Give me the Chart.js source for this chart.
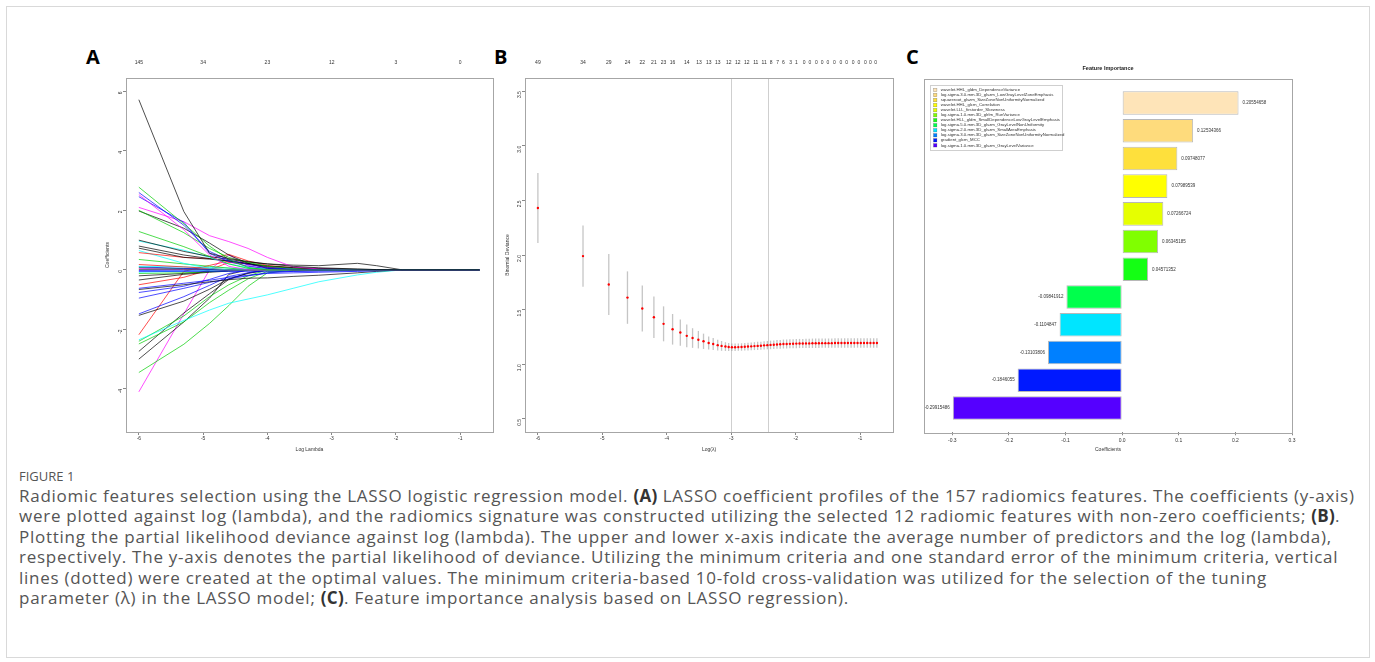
<!DOCTYPE html>
<html>
<head>
<meta charset="utf-8">
<script src="https://cdn.jsdelivr.net/npm/chart.js@4.4.1/dist/chart.umd.min.js"></script>
<style>
  body { margin: 0; background: #fff; width: 1375px; height: 662px; position: relative; overflow: hidden; }
  .frame { position: absolute; left: 6px; top: 6px; width: 1362px; height: 650px; border: 1px solid #d9d9d9; }
  canvas { position: absolute; }
  .panel { position: absolute; top: 43px; font: bold 20px "Open Sans", sans-serif; color: #000; }
  .figno { position: absolute; left: 19px; top: 468px; font: 13px "Open Sans", sans-serif; color: #555; line-height: 16px; }
  .caption { position: absolute; left: 19px; top: 486px; font: 17px "Open Sans", sans-serif; letter-spacing: 0.74px; color: #555; line-height: 20.4px; white-space: nowrap; }
  .caption b { color: #333; letter-spacing: 0.3px; }
</style>
</head>
<body>
<div class="frame"></div>
<div class="panel" style="left:86px">A</div>
<div class="panel" style="left:494px">B</div>
<div class="panel" style="left:906px">C</div>
<canvas id="chartA" width="410" height="415" style="left:95px;top:55px"></canvas>
<canvas id="chartB" width="410" height="415" style="left:495px;top:55px"></canvas>
<canvas id="chartC" width="400" height="420" style="left:905px;top:50px"></canvas>
<div class="figno">FIGURE 1</div>
<div class="caption">
Radiomic features selection using the LASSO logistic regression model. <b>(A)</b> LASSO coefficient profiles of the 157 radiomics features. The coefficients (y-axis)<br>
were plotted against log (lambda), and the radiomics signature was constructed utilizing the selected 12 radiomic features with non-zero coefficients; <b>(B)</b>.<br>
Plotting the partial likelihood deviance against log (lambda). The upper and lower x-axis indicate the average number of predictors and the log (lambda),<br>
respectively. The y-axis denotes the partial likelihood of deviance. Utilizing the minimum criteria and one standard error of the minimum criteria, vertical<br>
lines (dotted) were created at the optimal values. The minimum criteria-based 10-fold cross-validation was utilized for the selection of the tuning<br>
parameter (λ) in the LASSO model; <b>(C)</b>. Feature importance analysis based on LASSO regression).
</div>
<script>
// ---- panel A: coefficient paths
var aLogLambda = [-6.0, -5.3, -4.9, -4.6, -4.3, -4.0, -3.6, -3.2, -2.6, -2.3, -1.9, -0.7];
var aXTicks = [-6, -5, -4, -3, -2, -1];
var aTopLabels = ['145', '34', '23', '12', '3', '0'];
var aYTicks = [-4, -2, 0, 2, 4, 6];
var aColors = [
  '#000', '#00cd00', '#00f', '#f0f', '#00f', '#f0f', '#00cd00', '#000', '#00cd00', '#000',
  '#0ff', '#000', '#000', '#f00', '#0ff', '#00cd00', '#f00', '#0ff', '#00f', '#00cd00',
  '#f0f', '#000', '#00f', '#00f', '#0ff', '#00cd00', '#000', '#000', '#f00', '#00f',
  '#000', '#00f', '#00f', '#00f', '#000', '#f00', '#0ff', '#00cd00', '#00cd00', '#000',
  '#000', '#00cd00', '#f0f'
];
var aCoef = [
  [5.72, 1.96, 0.56, 0.38, 0.28, 0.2, 0.12, 0.07, 0.03, 0.01, 0, 0],
  [2.78, 1.55, 0.8, 0.35, 0.08, 0, 0, 0, 0, 0, 0, 0],
  [2.6, 1.5, 0.62, 0.33, 0.18, 0.08, 0.02, 0, 0, 0, 0, 0],
  [2.53, 1.35, 0.5, 0.12, 0, 0, 0, 0, 0, 0, 0, 0],
  [2.46, 1.6, 0.55, 0.28, 0.12, 0.05, 0, 0, 0, 0, 0, 0],
  [2.1, 1.62, 1.15, 0.95, 0.72, 0.42, 0.1, 0.03, 0, 0, 0, 0],
  [2.0, 1.25, 0.72, 0.42, 0.25, 0.12, 0.04, 0, 0, 0, 0, 0],
  [1.98, 1.4, 0.9, 0.5, 0.22, 0.05, 0, 0, 0, 0, 0, 0],
  [1.29, 0.78, 0.45, 0.2, 0.05, 0, 0, 0, 0, 0, 0, 0],
  [1.0, 0.62, 0.45, 0.35, 0.26, 0.2, 0.16, 0.14, 0.22, 0.14, 0, 0],
  [0.97, 0.66, 0.42, 0.2, 0.08, 0, 0, 0, 0, 0, 0, 0],
  [0.8, 0.5, 0.38, 0.3, 0.2, 0.12, 0.06, 0.03, 0.01, 0, 0, 0],
  [0.73, 0.42, 0.36, 0.3, 0.22, 0.13, 0.08, 0.05, 0.02, 0.01, 0, 0],
  [0.58, 0.42, 0.38, 0.52, 0.3, 0.15, 0.07, 0.02, 0, 0, 0, 0],
  [0.65, 0.22, 0.05, 0, 0, 0, 0, 0, 0, 0, 0, 0],
  [0.35, 0.2, 0.12, 0.06, 0, 0, 0, 0, 0, 0, 0, 0],
  [0.18, 0.1, 0.05, 0, 0, 0, 0, 0, 0, 0, 0, 0],
  [0.12, 0.1, 0.08, 0.06, 0.05, 0.04, 0.03, 0.02, 0.01, 0.01, 0, 0],
  [0.1, 0.05, 0.02, 0, 0, 0, 0, 0, 0, 0, 0, 0],
  [0.08, 0.04, 0.02, 0.01, 0, 0, 0, 0, 0, 0, 0, 0],
  [0.05, 0.03, 0.01, 0, 0, 0, 0, 0, 0, 0, 0, 0],
  [0.02, 0.02, 0.01, 0, 0, 0, 0, 0, 0, 0, 0, 0],
  [-0.02, -0.01, 0, 0, 0, 0, 0, 0, 0, 0, 0, 0],
  [-0.05, -0.05, -0.05, -0.05, -0.06, -0.06, -0.05, -0.04, -0.03, -0.02, 0, 0],
  [-0.08, -0.04, -0.02, 0, 0, 0, 0, 0, 0, 0, 0, 0],
  [-0.12, -0.1, -0.06, -0.03, 0, 0, 0, 0, 0, 0, 0, 0],
  [-0.2, -0.12, -0.06, -0.02, 0, 0, 0, 0, 0, 0, 0, 0],
  [-0.34, -0.15, -0.08, -0.04, 0, 0, 0, 0, 0, 0, 0, 0],
  [-0.5, -0.25, 0.0, 0.25, 0.2, 0.1, 0, 0, 0, 0, 0, 0],
  [-0.62, -0.45, -0.35, -0.25, -0.18, -0.12, -0.1, -0.08, -0.05, -0.03, 0, 0],
  [-0.66, -0.5, -0.4, -0.33, -0.28, -0.27, -0.22, -0.18, -0.1, -0.05, 0, 0],
  [-0.76, -0.55, -0.32, -0.12, 0, 0, 0, 0, 0, 0, 0, 0],
  [-0.95, -0.62, -0.42, -0.3, -0.2, -0.1, -0.05, -0.03, -0.01, 0, 0, 0],
  [-1.48, -0.9, -0.52, -0.22, -0.1, 0, 0, 0, 0, 0, 0, 0],
  [-1.53, -1.05, -0.65, -0.3, -0.12, 0, 0, 0, 0, 0, 0, 0],
  [-2.18, -0.05, 0.15, 0.3, 0.2, 0.08, 0, 0, 0, 0, 0, 0],
  [-2.35, -1.7, -1.35, -1.12, -0.98, -0.84, -0.62, -0.4, -0.17, -0.08, 0, 0],
  [-2.4, -1.55, -0.9, -0.5, -0.2, 0, 0, 0, 0, 0, 0, 0],
  [-2.49, -1.75, -1.1, -0.68, -0.3, -0.05, 0, 0, 0, 0, 0, 0],
  [-2.74, -1.45, -0.8, -0.32, -0.1, 0, 0, 0, 0, 0, 0, 0],
  [-3.0, -1.75, -0.95, -0.15, 0, 0, 0, 0, 0, 0, 0, 0],
  [-3.45, -2.5, -1.8, -1.2, -0.55, -0.1, 0, 0, 0, 0, 0, 0],
  [-4.1, -1.48, 0.0, 0.5, 0.15, 0, 0, 0, 0, 0, 0, 0]
];

// ---- panel B: cross-validation curve
var bLogLambda = [-6.0, -5.3, -4.9, -4.61, -4.38, -4.2, -4.05, -3.91, -3.79, -3.69, -3.6, -3.51, -3.43, -3.35, -3.28, -3.21, -3.15, -3.09, -3.04,
  -2.99, -2.94, -2.89, -2.84, -2.79, -2.74, -2.69, -2.64, -2.59, -2.54, -2.49, -2.44, -2.39, -2.34, -2.29, -2.24, -2.19, -2.14, -2.09, -2.04,
  -1.99, -1.94, -1.89, -1.84, -1.79, -1.74, -1.69, -1.64, -1.59, -1.54, -1.49, -1.44, -1.39, -1.34, -1.29, -1.24, -1.19, -1.14, -1.09, -1.04,
  -0.99, -0.94, -0.89, -0.84, -0.79, -0.74];
var bDeviance = [2.43, 1.99, 1.73, 1.61, 1.51, 1.43, 1.37, 1.32, 1.29, 1.26, 1.24, 1.225, 1.21, 1.195, 1.185, 1.175, 1.168, 1.162, 1.158,
  1.156, 1.156, 1.157, 1.158, 1.16, 1.162, 1.164, 1.166, 1.168, 1.17, 1.173, 1.175, 1.177, 1.179, 1.181, 1.183, 1.185, 1.186, 1.187, 1.188,
  1.189, 1.19, 1.19, 1.191, 1.191, 1.192, 1.192, 1.192, 1.193, 1.193, 1.193, 1.193, 1.194, 1.194, 1.194, 1.194, 1.194, 1.194, 1.195, 1.195,
  1.195, 1.195, 1.195, 1.195, 1.195, 1.195];
var bSE = [0.32, 0.28, 0.28, 0.24, 0.21, 0.19, 0.16, 0.14, 0.12, 0.105, 0.09, 0.08, 0.07, 0.06, 0.055, 0.05, 0.045, 0.04, 0.037,
  0.035, 0.034, 0.034, 0.034, 0.035, 0.035, 0.036, 0.036, 0.037, 0.037, 0.038, 0.038, 0.039, 0.039, 0.04, 0.04, 0.041, 0.041, 0.041, 0.042,
  0.042, 0.042, 0.042, 0.043, 0.043, 0.043, 0.043, 0.043, 0.043, 0.043, 0.043, 0.043, 0.043, 0.043, 0.043, 0.043, 0.043, 0.043, 0.043, 0.043,
  0.043, 0.043, 0.043, 0.043, 0.043, 0.043];
var bVLines = [-3.0, -2.43];
var bYTicks = [0.5, 1, 1.5, 2, 2.5, 3, 3.5];
var bTopAt = [-6.0, -5.3, -4.9, -4.61, -4.38, -4.2, -4.05, -3.91, -3.69, -3.5, -3.35, -3.21, -3.04, -2.9, -2.76, -2.62, -2.49, -2.38, -2.28,
  -2.19, -2.08, -1.99, -1.87, -1.78, -1.68, -1.59, -1.5, -1.4, -1.3, -1.21, -1.11, -1.02, -0.92, -0.84, -0.76];
var bTopLabels = ['49', '34', '29', '24', '22', '21', '23', '16', '14', '13', '13', '13', '12', '12', '12', '11', '11', '8', '7',
  '6', '3', '1', '0', '0', '0', '0', '0', '0', '0', '0', '0', '0', '0', '0', '0'];

// ---- panel C: feature importance
var cFeatures = [
  'wavelet.HHL_gldm_DependenceVariance',
  'log.sigma.3.0.mm.3D_glszm_LowGrayLevelZoneEmphasis',
  'squareroot_glszm_SizeZoneNonUniformityNormalized',
  'wavelet.HHL_glcm_Correlation',
  'wavelet.LLL_firstorder_Skewness',
  'log.sigma.1.0.mm.3D_glrlm_RunVariance',
  'wavelet.HLL_gldm_SmallDependenceLowGrayLevelEmphasis',
  'log.sigma.5.0.mm.3D_glszm_GrayLevelNonUniformity',
  'log.sigma.2.0.mm.3D_glszm_SmallAreaEmphasis',
  'log.sigma.3.0.mm.3D_glszm_SizeZoneNonUniformityNormalized',
  'gradient_glcm_MCC',
  'log.sigma.1.0.mm.3D_glszm_GrayLevelVariance'
];
var cCoef = [0.20554658, 0.12534366, 0.09748077, 0.07989539, 0.07266724, 0.06345185, 0.04571352,
  -0.09841912, -0.1104847, -0.13103806, -0.1846055, -0.29915486];
var cColors = ['#fee4b8', '#fedb7c', '#fee03c', '#ffff00', '#e6ff00', '#80ff00', '#14ff14',
  '#00ff4c', '#00e5ff', '#0080ff', '#0019ff', '#5500ff'];
var cXTicks = [-0.3, -0.2, -0.1, 0, 0.1, 0.2, 0.3];

Chart.defaults.font.family = '"Liberation Sans", Arial, sans-serif';
Chart.defaults.font.size = 5;
Chart.defaults.color = '#333';
Chart.defaults.animation = false;

// frame round the plot region, like R's box()
var boxPlugin = {
  id: 'box',
  afterDraw: function(chart) {
    var a = chart.chartArea, ctx = chart.ctx;
    ctx.save();
    ctx.strokeStyle = '#a6a6a6';
    ctx.lineWidth = 1;
    ctx.strokeRect(Math.round(a.left) + 0.5, Math.round(a.top) + 0.5, Math.round(a.right - a.left), Math.round(a.bottom - a.top));
    ctx.restore();
  }
};

function fixedTicks(list) {
  return function(s) { s.ticks = list.map(function(v) { return {value: v}; }); };
}
function bottomAxis(min, max, ticks, title, h) {
  return {
    type: 'linear', position: 'bottom', min: min, max: max,
    afterBuildTicks: fixedTicks(ticks),
    afterFit: function(s) { s.height = h; },
    grid: {drawOnChartArea: false, tickLength: 3, color: '#888'},
    border: {display: false},
    ticks: {padding: 1, maxRotation: 0, autoSkip: false},
    title: {display: true, text: title, padding: {top: 0, bottom: 17}}
  };
}
function leftAxis(min, max, ticks, title, w) {
  return {
    type: 'linear', min: min, max: max,
    afterBuildTicks: fixedTicks(ticks),
    afterFit: function(s) { s.width = w; },
    grid: {drawOnChartArea: false, tickLength: 3, color: '#888'},
    border: {display: false},
    ticks: {padding: 2, minRotation: 90, maxRotation: 90, autoSkip: false},
    title: {display: true, text: title, padding: {top: 10, bottom: 0}}
  };
}
function topAxis(min, max, at, labels, h) {
  return {
    type: 'linear', position: 'top', min: min, max: max,
    afterBuildTicks: fixedTicks(at),
    afterFit: function(s) { s.height = h; },
    grid: {display: false},
    border: {display: false},
    ticks: {padding: 4, maxRotation: 0, autoSkip: false, callback: function(v, i) { return labels[i]; }}
  };
}

// ---- A
new Chart(document.getElementById('chartA'), {
  type: 'line',
  data: {
    datasets: aCoef.map(function(vals, i) {
      return {
        data: vals.map(function(v, j) { return {x: aLogLambda[j], y: v}; }),
        borderColor: aColors[i], borderWidth: 0.7, pointRadius: 0, tension: 0, fill: false
      };
    })
  },
  options: {
    responsive: false,
    layout: {padding: {left: 0, right: 12, top: 0, bottom: 0}},
    plugins: {legend: {display: false}, tooltip: {enabled: false}},
    scales: {
      x: bottomAxis(-6.2, -0.49, aXTicks, 'Log Lambda', 38),
      x2: topAxis(-6.2, -0.49, aXTicks, aTopLabels, 23),
      y: leftAxis(-5.45, 6.45, aYTicks, 'Coefficients', 31)
    }
  },
  plugins: [boxPlugin]
});

// ---- B
var errorBars = {
  id: 'errorBars',
  beforeDatasetsDraw: function(chart) {
    var ctx = chart.ctx, x = chart.scales.x, y = chart.scales.y, a = chart.chartArea;
    ctx.save();
    ctx.strokeStyle = '#cfcfcf';
    ctx.lineWidth = 1;
    bVLines.forEach(function(v) {
      var px = Math.round(x.getPixelForValue(v)) + 0.5;
      ctx.beginPath(); ctx.moveTo(px, a.top); ctx.lineTo(px, a.bottom); ctx.stroke();
    });
    ctx.strokeStyle = 'rgba(150,150,150,0.55)';
    ctx.lineWidth = 1.3;
    bLogLambda.forEach(function(l, i) {
      var px = x.getPixelForValue(l);
      ctx.beginPath();
      ctx.moveTo(px, y.getPixelForValue(bDeviance[i] + bSE[i]));
      ctx.lineTo(px, y.getPixelForValue(bDeviance[i] - bSE[i]));
      ctx.stroke();
    });
    ctx.restore();
  }
};
new Chart(document.getElementById('chartB'), {
  type: 'scatter',
  data: {
    datasets: [{
      data: bLogLambda.map(function(l, i) { return {x: l, y: bDeviance[i]}; }),
      pointRadius: 1.2, pointBackgroundColor: '#ff0000', pointBorderWidth: 0
    }]
  },
  options: {
    responsive: false,
    layout: {padding: {left: 0, right: 12, top: 0, bottom: 0}},
    plugins: {legend: {display: false}, tooltip: {enabled: false}},
    scales: {
      x: bottomAxis(-6.2, -0.49, aXTicks, 'Log(λ)', 38),
      x2: topAxis(-6.2, -0.49, bTopAt, bTopLabels, 23),
      y: leftAxis(0.38, 3.62, bYTicks, 'Binomial Deviance', 30)
    }
  },
  plugins: [errorBars, boxPlugin]
});

// ---- C
var barLabels = {
  id: 'barLabels',
  afterDatasetsDraw: function(chart) {
    var ctx = chart.ctx;
    ctx.save();
    ctx.font = '4.5px "Liberation Sans", Arial, sans-serif';
    ctx.fillStyle = '#333';
    ctx.textBaseline = 'middle';
    chart.getDatasetMeta(0).data.forEach(function(bar, i) {
      var v = cCoef[i];
      ctx.textAlign = v >= 0 ? 'left' : 'right';
      ctx.fillText(String(v), bar.x + (v >= 0 ? 4 : -3), bar.y);
    });
    ctx.restore();
  }
};
var featureLegend = {
  id: 'featureLegend',
  afterDraw: function(chart) {
    var ctx = chart.ctx, a = chart.chartArea;
    var x0 = Math.round(a.left) + 6, y0 = Math.round(a.top) + 6;
    ctx.save();
    ctx.fillStyle = '#fff';
    ctx.fillRect(x0, y0, 132, 65);
    ctx.strokeStyle = '#cfcfcf';
    ctx.lineWidth = 1;
    ctx.strokeRect(x0 + 0.5, y0 + 0.5, 132, 65);
    ctx.font = '4.3px "Liberation Sans", Arial, sans-serif';
    ctx.textBaseline = 'middle';
    ctx.textAlign = 'left';
    cFeatures.forEach(function(name, i) {
      var yy = y0 + 5 + i * 5.03;
      ctx.fillStyle = cColors[i];
      ctx.fillRect(x0 + 3.5, yy - 1.7, 3.4, 3.4);
      ctx.strokeStyle = 'rgba(0,0,0,0.35)';
      ctx.lineWidth = 0.5;
      ctx.strokeRect(x0 + 3.5, yy - 1.7, 3.4, 3.4);
      ctx.fillStyle = '#333';
      ctx.fillText(name, x0 + 10.7, yy);
    });
    ctx.restore();
  }
};
new Chart(document.getElementById('chartC'), {
  type: 'bar',
  data: {
    datasets: [{
      data: cCoef.map(function(v, i) { return {x: v, y: i}; }),
      backgroundColor: cColors,
      borderColor: 'rgba(0,0,0,0.28)',
      borderWidth: 1,
      borderSkipped: false,
      categoryPercentage: 1,
      barPercentage: 0.85
    }]
  },
  options: {
    indexAxis: 'y',
    responsive: false,
    layout: {padding: {left: 19, right: 13, top: 0, bottom: 0}},
    plugins: {
      legend: {display: false},
      tooltip: {enabled: false},
      title: {display: true, text: 'Feature Importance', font: {size: 5.5, weight: 'bold'}, color: '#222', padding: {top: 15, bottom: 7}}
    },
    scales: {
      x: {
        type: 'linear', min: -0.35, max: 0.3,
        afterBuildTicks: fixedTicks(cXTicks),
        afterFit: function(s) { s.height = 37.7; },
        grid: {drawOnChartArea: false, tickLength: 3, color: '#888'},
        border: {display: false},
        ticks: {padding: 2, maxRotation: 0, autoSkip: false, callback: function(v) { return v.toFixed(1); }},
        title: {display: true, text: 'Coefficients', padding: {top: 0, bottom: 17.7}}
      },
      y: {
        type: 'linear', min: -0.88, max: 11.88, reverse: true, offset: false, display: false,
        afterBuildTicks: fixedTicks(cCoef.map(function(v, i) { return i; }))
      }
    }
  },
  plugins: [barLabels, boxPlugin, featureLegend]
});
</script>
</body>
</html>
